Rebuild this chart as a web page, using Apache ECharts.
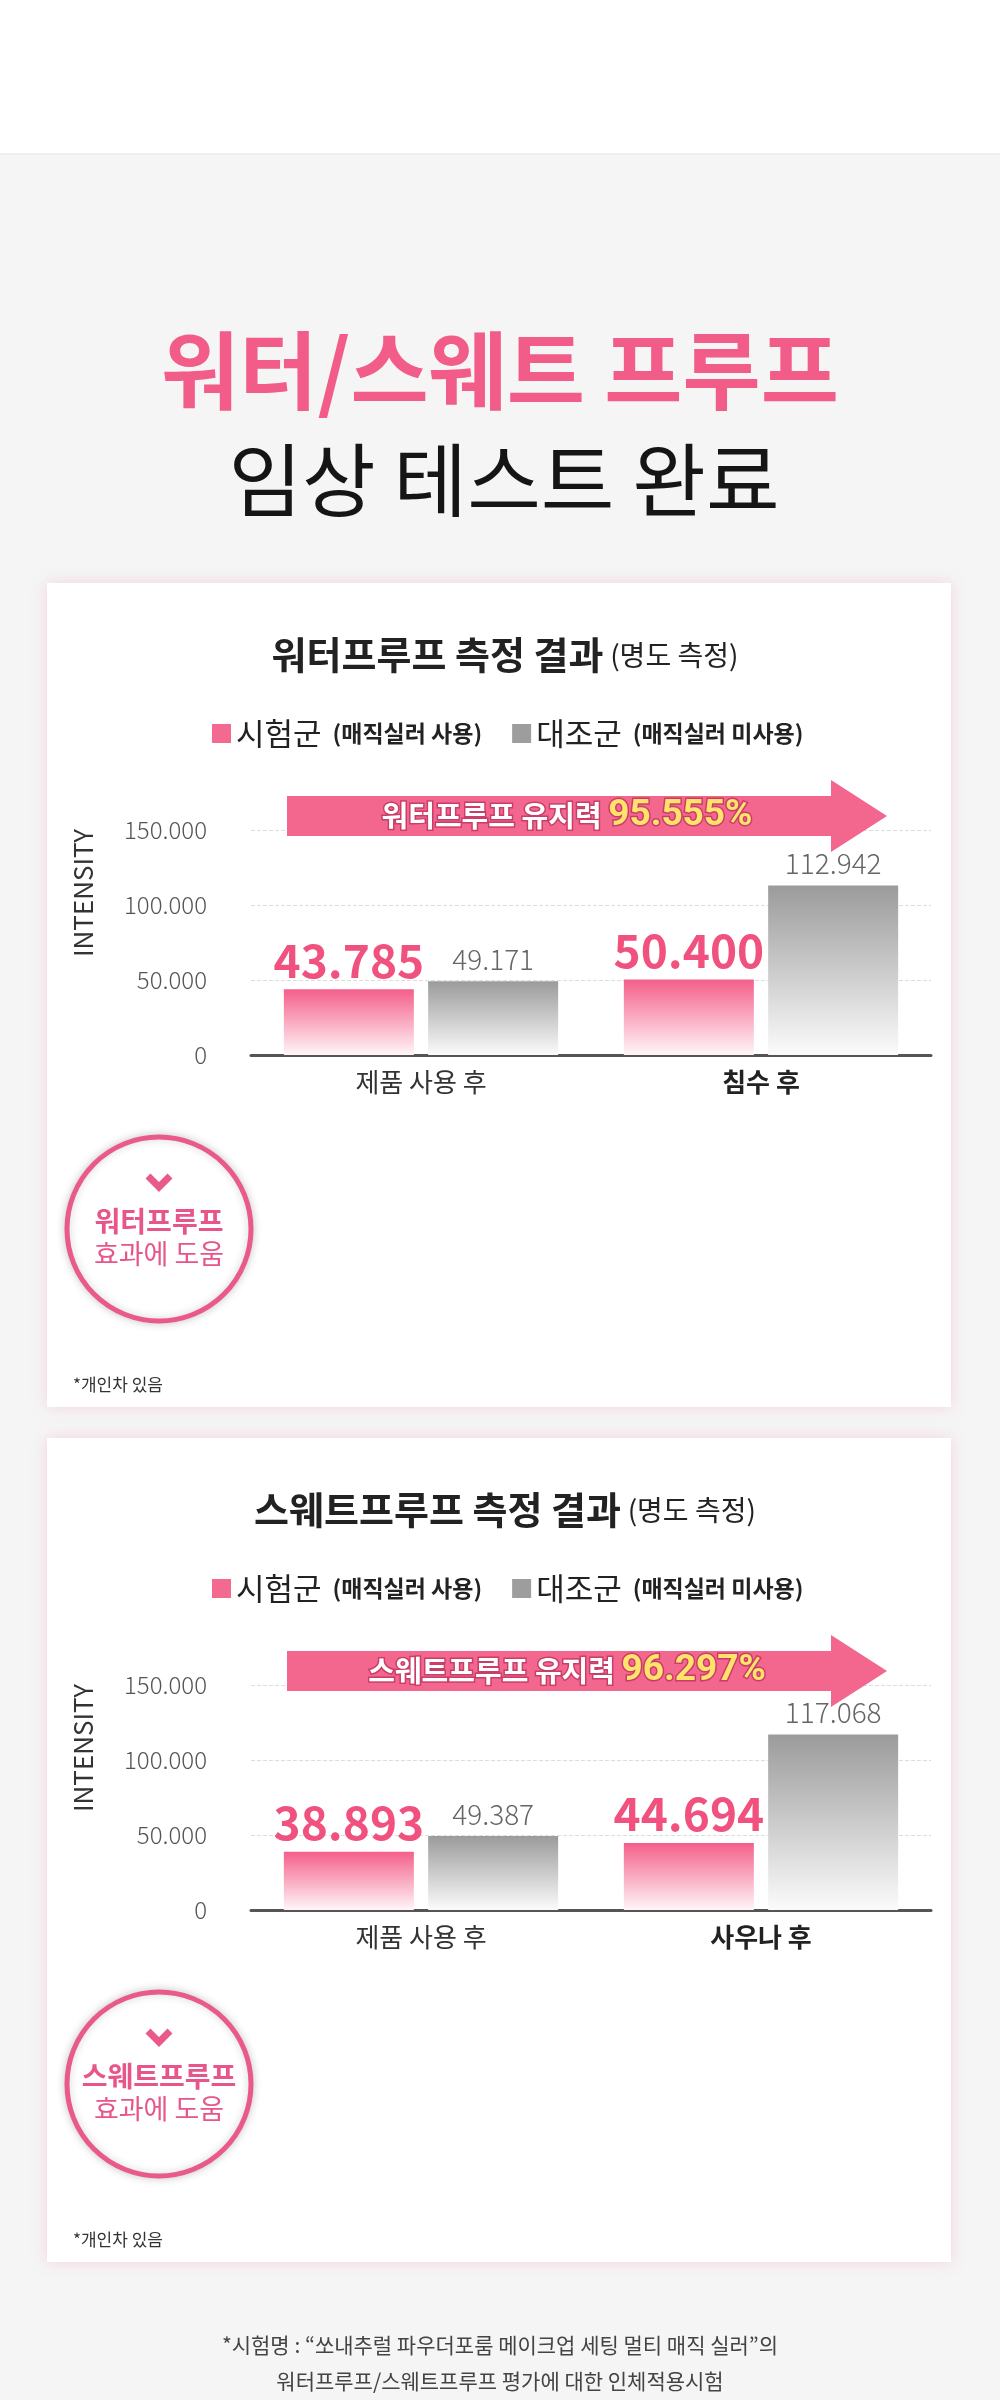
<!DOCTYPE html>
<html>
<head>
<meta charset="utf-8">
<script src="https://cdn.jsdelivr.net/npm/echarts@6/dist/echarts.min.js"></script>
<style>
html,body{margin:0;padding:0;background:#f5f5f5;}
#c{width:1000px;height:2400px;}
</style>
</head>
<body>
<div id="c"></div>
<script>
// ---- data ----
const categories1 = ['제품 사용 후', '침수 후'];
const categories2 = ['제품 사용 후', '사우나 후'];
const testValues1 = [43785, 50400];
const controlValues1 = [49171, 112942];
const testValues2 = [38893, 44694];
const controlValues2 = [49387, 117068];
const yTicks = [0, 50000, 100000, 150000];
const seriesNames = ['시험군', '대조군'];
const seriesNotes = ['(매직실러 사용)', '(매직실러 미사용)'];
const chartTitles = ['워터프루프 측정 결과', '스웨트프루프 측정 결과'];
const chartSubtitle = '(명도 측정)';
const retentionLabels = ['워터프루프 유지력', '스웨트프루프 유지력'];
const retentionValues = ['95.555%', '96.297%'];
const badgeTitles = ['워터프루프', '스웨트프루프'];
const badgeSub = '효과에 도움';
const footNote = '*개인차 있음';
const pageTitle1 = '워터/스웨트 프루프';
const pageTitle2 = '임상 테스트 완료';
const bottomNotes = ['*시험명 : “쏘내추럴 파우더포룸 메이크업 세팅 멀티 매직 실러”의', '워터프루프/스웨트프루프 평가에 대한 인체적용시험'];

const FONT = '"Noto Sans CJK KR", "Noto Sans", sans-serif';
const PINK = '#f25c88';
const fmt = v => String(v).replace(/\B(?=(\d{3})+(?!\d))/g, '.');

const chart = echarts.init(document.getElementById('c'), null, {renderer: 'canvas'});

const OFF = 855; // vertical offset between the two cards
const gridTop = 830, gridH = 225;

function pinkGrad() {
  return new echarts.graphic.LinearGradient(0, 0, 0, 1, [
    {offset: 0, color: '#f45f8a'}, {offset: 1, color: '#fff6f8'}]);
}
function greyGrad() {
  return new echarts.graphic.LinearGradient(0, 0, 0, 1, [
    {offset: 0, color: '#9b9b9b'}, {offset: 1, color: '#fbfbfb'}]);
}

const grids = [], xAxes = [], yAxes = [], series = [], legends = [], graphics = [];

graphics.push({type: 'rect', shape: {x: 0, y: 0, width: 1000, height: 153}, style: {fill: '#ffffff'}, z: -20});
graphics.push({type: 'rect', shape: {x: 0, y: 153, width: 1000, height: 2}, style: {fill: '#eeeeee'}, z: -20});
graphics.push({type: 'text', z: 10, style: {text: pageTitle1, x: 500, y: 371, textAlign: 'center', textVerticalAlign: 'middle', fill: PINK, font: 'bold 85px ' + FONT}});
graphics.push({type: 'text', z: 10, style: {text: pageTitle2, x: 504, y: 480, textAlign: 'center', textVerticalAlign: 'middle', fill: '#151515', font: '80px ' + FONT}});

[0, 1].forEach(k => {
  const dy = k * OFF;
  const cats = k === 0 ? categories1 : categories2;
  const tv = k === 0 ? testValues1 : testValues2;
  const cv = k === 0 ? controlValues1 : controlValues2;

  // card
  graphics.push({type: 'rect', z: -10, shape: {x: 47, y: 583 + dy, width: 904, height: 824},
    style: {fill: '#ffffff', shadowBlur: 14, shadowColor: 'rgba(240,150,170,0.35)'}});
  // card title
  graphics.push({type: 'text', z: 10, style: {
    text: '{t|' + chartTitles[k] + '}  {s|' + chartSubtitle + '}', x: 505, y: 655 + dy,
    textAlign: 'center', textVerticalAlign: 'middle',
    rich: {t: {font: 'bold 38px ' + FONT, fill: '#222'}, s: {font: '28px ' + FONT, fill: '#222'}}}});
  // INTENSITY
  graphics.push({type: 'text', z: 10, rotation: Math.PI / 2, x: 83, y: 893 + dy, style: {
    text: 'INTENSITY', x: 0, y: 0, textAlign: 'center', textVerticalAlign: 'middle',
    fill: '#333', font: '26px ' + FONT}});
  // arrow
  graphics.push({type: 'polygon', z: 5, shape: {points: [[287, 796 + dy], [831, 796 + dy], [831, 780 + dy], [887, 816 + dy], [831, 852 + dy], [831, 836 + dy], [287, 836 + dy]]},
    style: {fill: '#f3668e'}});
  graphics.push({type: 'text', z: 6, style: {
    text: '{w|' + retentionLabels[k] + ' }{y|' + retentionValues[k] + '}', x: 567, y: 816 + dy,
    textAlign: 'center', textVerticalAlign: 'middle',
    rich: {
      w: {font: 'bold 29px ' + FONT, fill: '#ffffff', stroke: '#c93d68', lineWidth: 3},
      y: {font: 'bold 37px Roboto, ' + FONT, fill: '#ffe36a', stroke: '#c93d68', lineWidth: 3}
    }}});
  // badge
  graphics.push({type: 'circle', z: 5, shape: {cx: 159, cy: 1229 + dy, r: 92},
    style: {fill: '#ffffff', stroke: '#e95a8b', lineWidth: 5, shadowBlur: 8, shadowColor: 'rgba(0,0,0,0.18)'}});
  graphics.push({type: 'polyline', z: 6, shape: {points: [[148, 1176 + dy], [159, 1187 + dy], [170, 1176 + dy]]},
    style: {stroke: '#e95a8b', lineWidth: 7, fill: null}});
  graphics.push({type: 'text', z: 6, style: {text: badgeTitles[k], x: 159, y: 1221 + dy, textAlign: 'center', textVerticalAlign: 'middle',
    fill: '#e8558a', font: 'bold 28px ' + FONT}});
  graphics.push({type: 'text', z: 6, style: {text: badgeSub, x: 159, y: 1254 + dy, textAlign: 'center', textVerticalAlign: 'middle',
    fill: '#e8558a', font: '27px ' + FONT}});
  graphics.push({type: 'text', z: 6, style: {text: footNote, x: 73, y: 1385 + dy, textAlign: 'left', textVerticalAlign: 'middle',
    fill: '#333', font: '17px ' + FONT}});

  grids.push({left: 251, top: gridTop + dy, width: 680, height: gridH});
  xAxes.push({
    type: 'category', gridIndex: k, data: cats,
    axisLine: {lineStyle: {color: '#555', width: 3}},
    axisTick: {show: false},
    axisLabel: {
      margin: 14,
      formatter: (v, i) => i === 1 ? '{b|' + v + '}' : '{a|' + v + '}',
      rich: {a: {fontSize: 26, color: '#333', fontFamily: FONT}, b: {fontSize: 26, fontWeight: 'bold', color: '#222', fontFamily: FONT}}
    }
  });
  yAxes.push({
    type: 'value', gridIndex: k, min: yTicks[0], max: yTicks[yTicks.length - 1], interval: yTicks[1] - yTicks[0],
    axisLine: {show: false}, axisTick: {show: false},
    axisLabel: {formatter: fmt, fontSize: 24, color: '#555', fontWeight: 300, fontFamily: FONT, margin: 44},
    splitLine: {lineStyle: {type: 'dashed', color: '#dddddd', width: 1}}
  });
  series.push({
    name: seriesNames[0], type: 'bar', xAxisIndex: k, yAxisIndex: k, data: tv,
    barWidth: 130, barGap: '11%',
    itemStyle: {color: pinkGrad()},
    label: {show: true, position: 'top', distance: 6, formatter: p => fmt(p.value),
      fontSize: 46, fontWeight: 'bold', color: '#f0517f', fontFamily: FONT}
  });
  series.push({
    name: seriesNames[1], type: 'bar', xAxisIndex: k, yAxisIndex: k, data: cv,
    barWidth: 130, barGap: '11%',
    itemStyle: {color: greyGrad()},
    label: {show: true, position: 'top', distance: 8, formatter: p => fmt(p.value),
      fontSize: 28, fontWeight: 300, color: '#666', fontFamily: FONT}
  });
  legends.push({
    left: 207, top: 713 + dy, itemWidth: 19, itemHeight: 19, itemGap: 30, icon: 'rect',
    selectedMode: false,
    data: [{name: seriesNames[0], itemStyle: {color: '#f4698f'}}, {name: seriesNames[1], itemStyle: {color: '#9d9d9d'}}],
    formatter: name => '{a|' + name + '}{b|' + seriesNotes[seriesNames.indexOf(name)] + '}',
    textStyle: {rich: {
      a: {fontSize: 31, color: '#222', fontFamily: FONT, lineHeight: 38},
      b: {fontSize: 23, fontWeight: 'bold', color: '#222', fontFamily: FONT, lineHeight: 38, padding: [0, 0, 0, 11]}
    }}
  });
});

bottomNotes.forEach((t, i) => {
  graphics.push({type: 'text', z: 6, style: {text: t, x: 500, y: 2345 + i * 36, textAlign: 'center', textVerticalAlign: 'middle',
    fill: '#444', font: '21px ' + FONT}});
});

chart.setOption({
  backgroundColor: '#f5f5f5',
  animation: false,
  textStyle: {fontFamily: FONT},
  grid: grids,
  xAxis: xAxes,
  yAxis: yAxes,
  legend: legends,
  series: series,
  graphic: {elements: graphics}
});
</script>
</body>
</html>
